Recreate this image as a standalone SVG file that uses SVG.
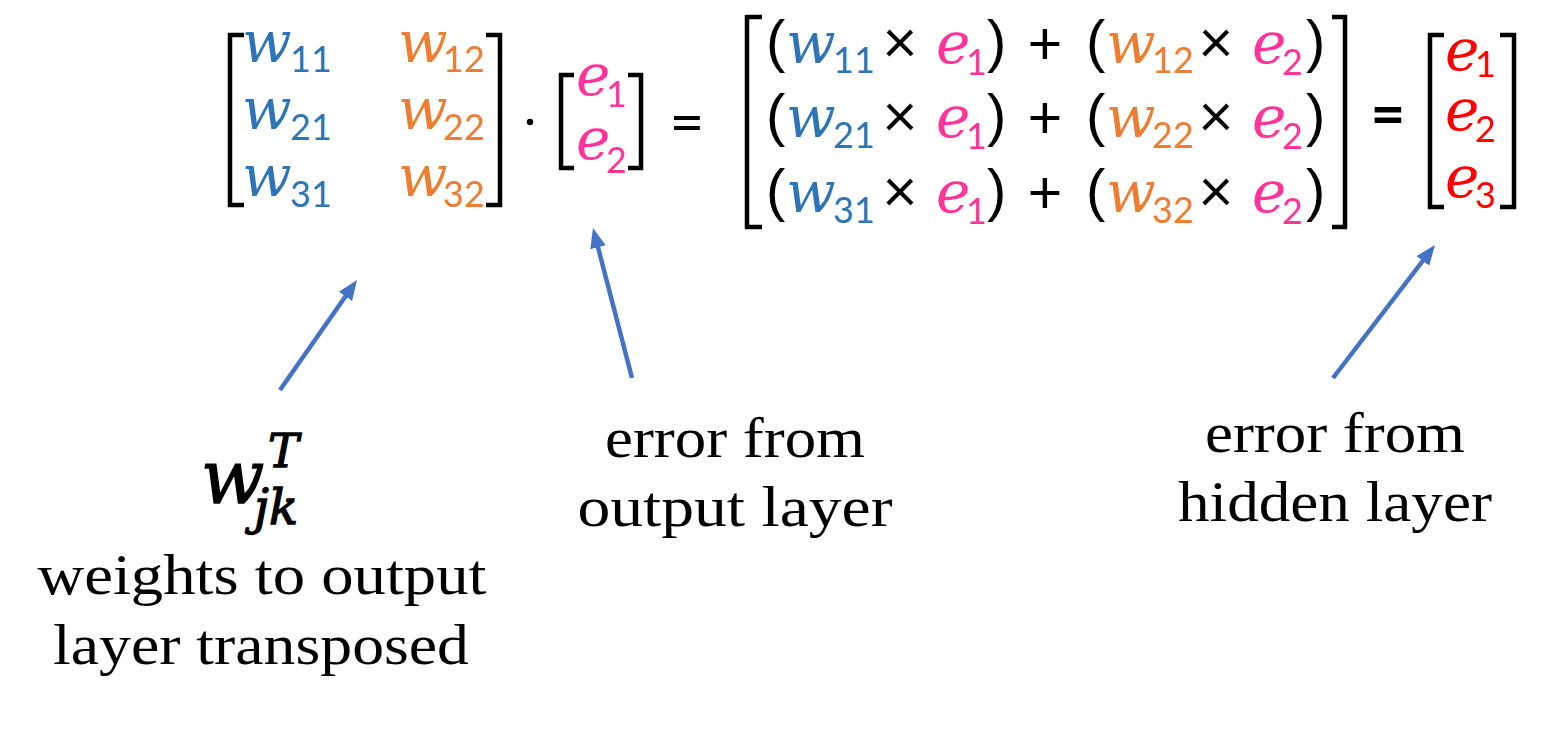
<svg xmlns="http://www.w3.org/2000/svg" width="1552" height="729" viewBox="0 0 1552 729">
<defs>
<style>
.m{font-family:"DejaVu Serif",serif;font-style:italic;font-size:58px}
.s{font-family:Lato,"Open Sans",sans-serif;font-style:normal;font-size:36px}
.op{font-family:Lato,"Open Sans",sans-serif;font-size:60px;fill:#000}
.pa{font-family:"Liberation Sans",Arial,sans-serif;font-size:58px;fill:#000}
.mid{text-anchor:middle}
.b{fill:#2E75B6}.o{fill:#ED7D31}.p{fill:#FF3399}.r{fill:#FF0000}
.br{fill:none;stroke:#000;stroke-width:4.5}
.lab{font-family:"Liberation Serif","Times New Roman",serif;font-size:58px;text-anchor:middle;fill:#000}
.big{font-family:"DejaVu Serif",serif;font-style:italic;fill:#000;stroke:#000;stroke-width:1.3}
.arr{stroke:#4472C4;stroke-width:4.5;fill:none}
</style>
<marker id="ah" markerUnits="userSpaceOnUse" markerWidth="22" markerHeight="18" refX="8" refY="8" orient="auto">
<path d="M0,0 L20,8 L0,16 z" fill="#4472C4"/>
</marker>
</defs>
<rect width="1552" height="729" fill="#fff"/>

<g id="matrix-w">
<path class="br" d="M244,35 H230 V205 H244"/>
<path class="br" d="M486,35 H500 V205 H486"/>
<text class="m b" x="242" y="62">w<tspan class="s" x="290" y="72">11</tspan></text>
<text class="m o" x="398" y="62">w<tspan class="s" x="443" y="72">12</tspan></text>
<text class="m b" x="242" y="129">w<tspan class="s" x="290" y="140">21</tspan></text>
<text class="m o" x="398" y="129">w<tspan class="s" x="443" y="140">22</tspan></text>
<text class="m b" x="242" y="196">w<tspan class="s" x="290" y="207">31</tspan></text>
<text class="m o" x="398" y="196">w<tspan class="s" x="443" y="207">32</tspan></text>
</g>

<g id="dot"><circle cx="530" cy="122" r="3.2" fill="#000"/></g>

<g id="vector-e-out">
<path class="br" d="M574,75 H561 V168 H574"/>
<path class="br" d="M628,75 H641 V168 H628"/>
<text class="m p" x="576" y="95">e<tspan class="s" x="606" y="107">1</tspan></text>
<text class="m p" x="576" y="159">e<tspan class="s" x="606" y="173">2</tspan></text>
</g>

<g id="equals-1"><text class="op mid" x="687" y="143" font-size="100">=</text></g>

<g id="matrix-product">
<path class="br" d="M762,17 H747 V227 H762"/>
<path class="br" d="M1332,17 H1345 V227 H1332"/>
<g id="row-1">
<text class="pa" x="766" y="61">(</text>
<text class="m b" x="786" y="63">w<tspan class="s" x="833" y="73">11</tspan></text>
<text class="op mid" x="900" y="63">×</text>
<text class="m p" x="936" y="63">e<tspan class="s" x="966" y="75">1</tspan></text>
<text class="pa" x="987" y="61">)</text>
<text class="op mid" x="1045" y="64" font-size="66">+</text>
<text class="pa" x="1086" y="61">(</text>
<text class="m o" x="1106" y="63">w<tspan class="s" x="1152" y="73">12</tspan></text>
<text class="op mid" x="1216" y="63">×</text>
<text class="m p" x="1252" y="63">e<tspan class="s" x="1282" y="75">2</tspan></text>
<text class="pa" x="1306" y="61">)</text>
</g>
<g id="row-2">
<text class="pa" x="766" y="135">(</text>
<text class="m b" x="786" y="137">w<tspan class="s" x="833" y="148">21</tspan></text>
<text class="op mid" x="900" y="137">×</text>
<text class="m p" x="936" y="137">e<tspan class="s" x="966" y="149">1</tspan></text>
<text class="pa" x="987" y="135">)</text>
<text class="op mid" x="1045" y="138" font-size="66">+</text>
<text class="pa" x="1086" y="135">(</text>
<text class="m o" x="1106" y="137">w<tspan class="s" x="1152" y="148">22</tspan></text>
<text class="op mid" x="1216" y="137">×</text>
<text class="m p" x="1252" y="137">e<tspan class="s" x="1282" y="149">2</tspan></text>
<text class="pa" x="1306" y="135">)</text>
</g>
<g id="row-3">
<text class="pa" x="766" y="210">(</text>
<text class="m b" x="786" y="212">w<tspan class="s" x="833" y="223">31</tspan></text>
<text class="op mid" x="900" y="212">×</text>
<text class="m p" x="936" y="212">e<tspan class="s" x="966" y="224">1</tspan></text>
<text class="pa" x="987" y="210">)</text>
<text class="op mid" x="1045" y="213" font-size="66">+</text>
<text class="pa" x="1086" y="210">(</text>
<text class="m o" x="1106" y="212">w<tspan class="s" x="1152" y="223">32</tspan></text>
<text class="op mid" x="1216" y="212">×</text>
<text class="m p" x="1252" y="212">e<tspan class="s" x="1282" y="224">2</tspan></text>
<text class="pa" x="1306" y="210">)</text>
</g>
</g>

<g id="equals-2"><text class="op mid" x="1388" y="135" font-size="60" font-weight="bold">=</text></g>

<g id="vector-e-hidden">
<path class="br" d="M1444,35 H1430 V207 H1444"/>
<path class="br" d="M1500,35 H1514 V207 H1500"/>
<text class="m r" x="1445" y="70">e<tspan class="s" x="1475" y="77">1</tspan></text>
<text class="m r" x="1445" y="130">e<tspan class="s" x="1475" y="142">2</tspan></text>
<text class="m r" x="1445" y="197">e<tspan class="s" x="1475" y="208">3</tspan></text>
</g>

<g id="connectors">
<line class="arr" x1="280" y1="390" x2="350.1" y2="289.8" marker-end="url(#ah)"/>
<line class="arr" x1="632" y1="378" x2="596.0" y2="239.6" marker-end="url(#ah)"/>
<line class="arr" x1="1333" y1="378" x2="1427.7" y2="254.5" marker-end="url(#ah)"/>
</g>

<g id="label-weights">
<text class="big" x="201" y="503" font-size="74">w<tspan x="268" y="467" font-size="46">T</tspan><tspan x="254" y="524" font-size="48">jk</tspan></text>
<text class="lab" x="262" y="594" textLength="449" lengthAdjust="spacingAndGlyphs">weights to output</text>
<text class="lab" x="261" y="664" textLength="416" lengthAdjust="spacingAndGlyphs">layer transposed</text>
</g>

<g id="label-output-error">
<text class="lab" x="735" y="457" textLength="260" lengthAdjust="spacingAndGlyphs">error from</text>
<text class="lab" x="735" y="526" textLength="315" lengthAdjust="spacingAndGlyphs">output layer</text>
</g>

<g id="label-hidden-error">
<text class="lab" x="1335" y="452" textLength="260" lengthAdjust="spacingAndGlyphs">error from</text>
<text class="lab" x="1335" y="521" textLength="314" lengthAdjust="spacingAndGlyphs">hidden layer</text>
</g>
</svg>
